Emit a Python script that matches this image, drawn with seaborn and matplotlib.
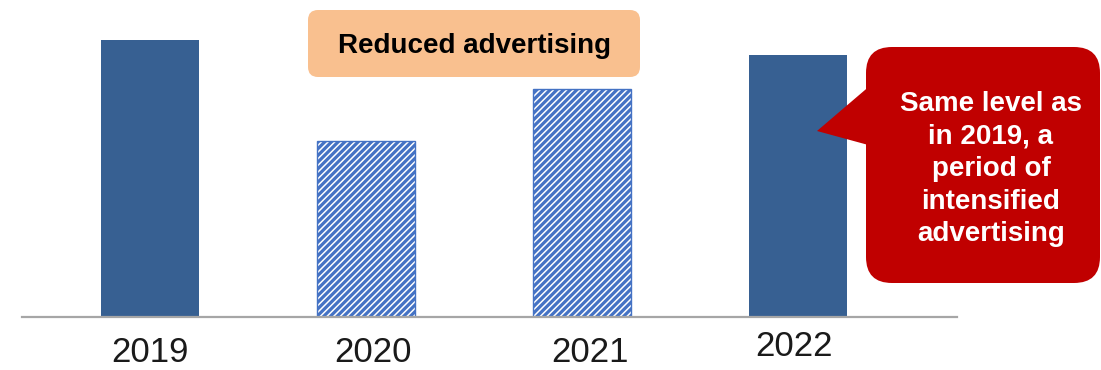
import matplotlib
matplotlib.use("Agg")
import matplotlib.pyplot as plt
import matplotlib.transforms as mtransforms
from matplotlib.patches import FancyBboxPatch, Polygon
import seaborn as sns
import pandas as pd

# Advertising spend index by year
years = ["2019", "2020", "2021", "2022"]
spend = [100, 63.5, 82.3, 94.6]
reduced = [False, True, True, False]

box_label = "Reduced advertising"
callout_label = "Same level as\nin 2019, a\nperiod of\nintensified\nadvertising"

SOLID = "#376092"
HATCH = "#4472C4"

sns.set_theme(style="white")
plt.rcParams["font.family"] = ["Liberation Sans", "DejaVu Sans"]
plt.rcParams["hatch.linewidth"] = 2.3
plt.rcParams["hatch.color"] = HATCH

df = pd.DataFrame({"year": years, "spend": spend})

fig = plt.figure(figsize=(11.01, 3.70), dpi=100)
ax = fig.add_axes([22 / 1101, 53 / 370, 935 / 1101, 317 / 370])

sns.barplot(data=df, x="year", y="spend", color=SOLID, width=0.454,
            saturation=1, ax=ax)

for patch, is_reduced in zip(ax.patches, reduced):
    if is_reduced:
        patch.set_facecolor("white")
        patch.set_edgecolor(HATCH)
        patch.set_hatch("/////")
        patch.set_linewidth(1.0)
    else:
        patch.set_edgecolor("none")

ax.set_xlim(-0.593, 3.736)
ax.set_ylim(0, 100 * 317 / 277)
ax.set_xlabel("")
ax.set_ylabel("")
ax.set_yticks([])
for side in ("top", "left", "right"):
    ax.spines[side].set_visible(False)
ax.spines["bottom"].set_color("#A6A6A6")
ax.spines["bottom"].set_linewidth(1.6)
ax.tick_params(axis="x", length=0, pad=14)

# small per-label nudges (in points) for the year labels
nudges = [(0, 0), (5, 0), (6, 0), (-3, 4.5)]
for lbl, (dx, dy) in zip(ax.get_xticklabels(), nudges):
    lbl.set_fontsize(25)
    lbl.set_color("#1a1a1a")
    offset = mtransforms.ScaledTranslation(dx / 72, dy / 72, fig.dpi_scale_trans)
    lbl.set_transform(lbl.get_transform() + offset)

# Overlay in pixel coordinates for the annotations
ov = fig.add_axes([0, 0, 1, 1], zorder=5)
ov.set_xlim(0, 1101)
ov.set_ylim(370, 0)
ov.axis("off")

ov.add_patch(FancyBboxPatch((316, 18), 316, 51,
                            boxstyle="round,pad=8,rounding_size=10",
                            facecolor="#F9C08F", edgecolor="none"))
ov.text(474, 46, box_label, ha="center", va="center", fontsize=20,
        fontweight="bold", color="black")

ov.add_patch(FancyBboxPatch((880, 61), 206, 208,
                            boxstyle="round,pad=14,rounding_size=26",
                            facecolor="#C00000", edgecolor="none"))
ov.add_patch(Polygon([(817, 131), (872, 84), (872, 146)], closed=True,
                     facecolor="#C00000", edgecolor="none"))
ov.text(991, 169, callout_label, ha="center", va="center", fontsize=20,
        fontweight="bold", color="white", linespacing=1.33)

fig.savefig("out.png", dpi=100)
